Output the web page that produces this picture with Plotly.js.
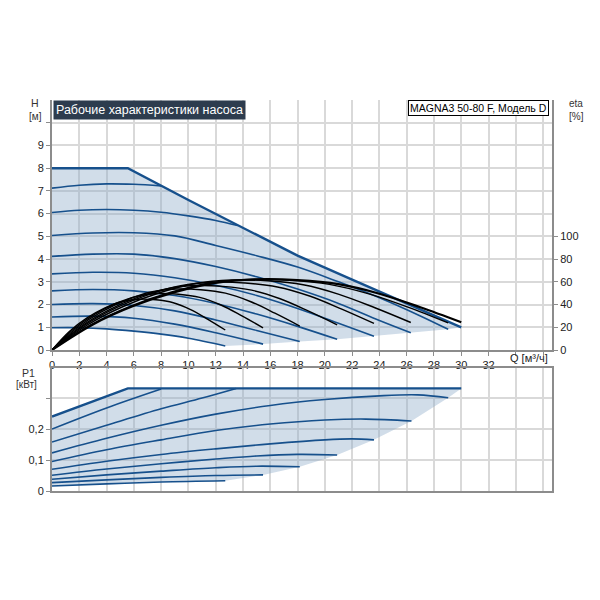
<!DOCTYPE html>
<html><head><meta charset="utf-8">
<script src="https://cdn.plot.ly/plotly-3.0.1.min.js"></script>
<style>html,body{margin:0;padding:0;background:#fff}#chart{width:600px;height:600px}</style>
</head><body><div id="chart"></div>
<script>
// ---------- H(Q) pump curves [m] vs Q [m3/h] ----------
const qHmax = [0, 5.56, 10, 14, 18, 22, 26, 30];
const hHmax = [8, 8, 6.6, 5.36, 4.15, 3.1, 2.05, 1.0];
const qH2 = [0, 2, 4, 6, 8];
const hH2 = [7.12, 7.25, 7.31, 7.29, 7.22];
const qH3 = [0, 2, 4, 6, 8, 10, 12, 13.6];
const hH3 = [6.05, 6.15, 6.18, 6.15, 6.06, 5.9, 5.7, 5.48];
const qH4 = [0, 3, 6, 9, 12, 15, 18, 21, 24, 27, 29.04];
const hH4 = [5.04, 5.15, 5.16, 5.02, 4.6, 4.15, 3.65, 3.0, 2.3, 1.5, 0.91];
const qH5 = [0, 3, 6, 9, 12, 15, 18, 21, 24, 26.3];
const hH5 = [4.12, 4.22, 4.22, 4.02, 3.67, 3.22, 2.68, 2.05, 1.3, 0.76];
const qH6 = [0, 3, 6, 9, 12, 15, 18, 21, 23.6];
const hH6 = [3.35, 3.42, 3.38, 3.18, 2.85, 2.4, 1.83, 1.18, 0.6];
const qH7 = [0, 3, 6, 9, 12, 15, 18, 20.9];
const hH7 = [2.6, 2.66, 2.6, 2.4, 2.05, 1.58, 1.04, 0.47];
const qH8 = [0, 3, 6, 9, 12, 15, 18.16];
const hH8 = [2.0, 2.04, 1.96, 1.72, 1.32, 0.86, 0.37];
const qH9 = [0, 3, 6, 9, 12, 15.47];
const hH9 = [1.45, 1.49, 1.4, 1.14, 0.76, 0.26];
const qH10 = [0, 2, 4, 6, 8, 10, 12.7];
const hH10 = [0.98, 0.98, 0.93, 0.83, 0.7, 0.52, 0.18];

// ---------- efficiency curves eta [%] ----------
const qE1 = [0, 3, 6, 9, 12, 15, 18, 21, 24, 27, 30];
const eE1 = [0, 22.5, 38.9, 50.9, 59.1, 62.2, 61.5, 57.9, 49.5, 37.6, 24.4];
const qE4 = [0, 2.9, 5.81, 8.71, 11.62, 14.52, 17.42, 20.33, 23.23, 26.14, 29.04];
const eE4 = [0, 22.5, 38.8, 50.8, 59, 62.1, 61.4, 57.8, 49.4, 37.5, 23.8];
const qE5 = [0, 2.63, 5.26, 7.89, 10.52, 13.15, 15.78, 18.41, 21.04, 23.67, 26.3];
const eE5 = [0, 22.3, 38.5, 50.4, 58.5, 61.6, 60.9, 57.4, 49, 37.2, 24.2];
const qE6 = [0, 2.36, 4.72, 7.08, 9.44, 11.8, 14.16, 16.52, 18.88, 21.24, 23.6];
const eE6 = [0, 21.6, 37.3, 48.8, 56.6, 59.6, 58.9, 55.5, 47.5, 36, 23.4];
const qE7 = [0, 2.09, 4.18, 6.27, 8.36, 10.45, 12.54, 14.63, 16.72, 18.81, 20.9];
const eE7 = [0, 20.5, 35.4, 46.3, 53.8, 56.7, 56, 52.7, 45.1, 34.2, 22.2];
const qE8 = [0, 1.82, 3.63, 5.45, 7.26, 9.08, 10.9, 12.71, 14.53, 16.34, 18.16];
const eE8 = [0, 19.4, 33.5, 43.9, 51, 53.7, 53, 50, 42.7, 32.4, 21.1];
const qE9 = [0, 1.55, 3.09, 4.64, 6.19, 7.74, 9.28, 10.83, 12.38, 13.92, 15.47];
const eE9 = [0, 18, 31.1, 40.7, 47.2, 49.7, 49.1, 46.3, 39.6, 30, 19.5];
const qE10 = [0, 1.27, 2.54, 3.81, 5.08, 6.35, 7.62, 8.89, 10.16, 11.43, 12.7];
const eE10 = [0, 16.2, 28, 36.6, 42.5, 44.7, 44.2, 41.6, 35.6, 27, 17.6];

// ---------- P1 curves [kW] ----------
const qPmax = [0, 5.56, 30];
const pPmax = [0.24, 0.331, 0.331];
const qP2 = [0, 4, 8];
const pP2 = [0.2, 0.268, 0.329];
const qP3 = [0, 4, 8, 11, 13.5];
const pP3 = [0.158, 0.212, 0.265, 0.3, 0.331];
const qP4 = [0, 4, 8, 12, 16, 20, 24, 26.8, 29.04];
const pP4 = [0.123, 0.17, 0.212, 0.248, 0.276, 0.295, 0.307, 0.31, 0.301];
const qP5 = [0, 4, 8, 12, 16, 20, 23, 26.35];
const pP5 = [0.095, 0.133, 0.165, 0.195, 0.216, 0.229, 0.232, 0.226];
const qP6 = [0, 4, 8, 12, 16, 20, 22, 23.6];
const pP6 = [0.07, 0.096, 0.118, 0.136, 0.152, 0.165, 0.168, 0.165];
const qP7 = [0, 4, 8, 12, 15, 18, 20.9];
const pP7 = [0.051, 0.071, 0.088, 0.103, 0.113, 0.118, 0.116];
const qP8 = [0, 4, 8, 12, 15, 18.16];
const pP8 = [0.038, 0.052, 0.064, 0.075, 0.08, 0.078];
const qP9 = [0, 4, 8, 12, 15.47];
const pP9 = [0.027, 0.036, 0.044, 0.05, 0.052];
const qP10 = [0, 4, 8, 12.7];
const pP10 = [0.016, 0.023, 0.029, 0.033];

// ---------- ticks ----------
const qTicks = [0,2,4,6,8,10,12,14,16,18,20,22,24,26,28,30,32,34,36];
const qTickText = ['0','2','4','6','8','10','12','14','16','18','20','22','24','26','28','30','32','',''];
const hTicks = [0,1,2,3,4,5,6,7,8,9,10];
const hTickText = ['0','1','2','3','4','5','6','7','8','9',''];
const etaTicks = [0,20,40,60,80,100];
const pTicks = [0,0.1,0.2,0.3];
const pTickText = ['0','0,1','0,2',''];

const BLUE = '#16508c';
const FILL = 'rgba(140,170,200,0.4)';
const FONT = 'Liberation Sans, Arial, sans-serif';

const hCurves = [[qH2,hH2],[qH3,hH3],[qH4,hH4],[qH5,hH5],[qH6,hH6],[qH7,hH7],[qH8,hH8],[qH9,hH9],[qH10,hH10]];
const eCurves = [[qE10,eE10],[qE9,eE9],[qE8,eE8],[qE7,eE7],[qE6,eE6],[qE5,eE5],[qE4,eE4],[qE1,eE1]];
const pCurves = [[qP2,pP2],[qP3,pP3],[qP4,pP4],[qP5,pP5],[qP6,pP6],[qP7,pP7],[qP8,pP8],[qP9,pP9],[qP10,pP10]];

function last(a){return a[a.length-1];}
// shaded region, top chart
const bndH = [[qH4,hH4],[qH5,hH5],[qH6,hH6],[qH7,hH7],[qH8,hH8],[qH9,hH9]];
const fillQ = qHmax.concat(bndH.map(c=>last(c[0])), qH10.slice().reverse());
const fillH = hHmax.concat(bndH.map(c=>last(c[1])), hH10.slice().reverse());
// shaded region, bottom chart
const bndP = [[qP4,pP4],[qP5,pP5],[qP6,pP6],[qP7,pP7],[qP8,pP8],[qP9,pP9]];
const fillQP = qPmax.concat(bndP.map(c=>last(c[0])), qP10.slice().reverse());
const fillP = pPmax.concat(bndP.map(c=>last(c[1])), pP10.slice().reverse());

const traces = [];
traces.push({x:fillQ, y:fillH, xaxis:'x', yaxis:'y', mode:'lines', fill:'toself', fillcolor:FILL, line:{width:0}, hoverinfo:'skip'});
traces.push({x:fillQP, y:fillP, xaxis:'x2', yaxis:'y2', mode:'lines', fill:'toself', fillcolor:FILL, line:{width:0}, hoverinfo:'skip'});
hCurves.forEach(c=>traces.push({x:c[0], y:c[1], xaxis:'x', yaxis:'y', mode:'lines', line:{color:BLUE, width:1.6, shape:'spline', smoothing:1}}));
traces.push({x:qHmax, y:hHmax, xaxis:'x', yaxis:'y', mode:'lines', line:{color:BLUE, width:2.4}});
pCurves.forEach(c=>traces.push({x:c[0], y:c[1], xaxis:'x2', yaxis:'y2', mode:'lines', line:{color:BLUE, width:1.6, shape:'spline', smoothing:1}}));
traces.push({x:qPmax, y:pPmax, xaxis:'x2', yaxis:'y2', mode:'lines', line:{color:BLUE, width:2.4}});
eCurves.forEach((c,i)=>traces.push({x:c[0], y:c[1], xaxis:'x', yaxis:'y3', mode:'lines', line:{color:'#000', width: i===eCurves.length-1 ? 2.2 : 1.4, shape:'spline', smoothing:1}}));

const axLine = '#8c8c8c';
const gridC = '#d9d9d9';
const tickF = {family:FONT, size:11, color:'#222'};

const layout = {
  width:600, height:600,
  margin:{l:52, r:48, t:100, b:109},
  paper_bgcolor:'#fff', plot_bgcolor:'#fff',
  showlegend:false,
  font:{family:FONT, size:11, color:'#222'},
  xaxis:{domain:[0,1], anchor:'y', range:[0,36.65], tickvals:qTicks, ticktext:qTickText,
    showgrid:true, gridcolor:gridC, gridwidth:2, zeroline:false,
    showline:true, linecolor:axLine, linewidth:2, ticks:'outside', ticklen:4, tickcolor:axLine, tickfont:tickF},
  yaxis:{domain:[0.3606,1], anchor:'x', range:[0,11], tickvals:hTicks, ticktext:hTickText,
    showgrid:true, gridcolor:gridC, gridwidth:2, zeroline:false,
    showline:true, linecolor:axLine, linewidth:2, ticks:'outside', ticklen:4, tickcolor:axLine, tickfont:tickF},
  yaxis3:{overlaying:'y', side:'right', anchor:'x', range:[0,220], tickvals:etaTicks,
    showgrid:false, zeroline:false, showline:true, linecolor:axLine, linewidth:2,
    ticks:'outside', ticklen:4, tickcolor:axLine, tickfont:tickF},
  xaxis2:{domain:[0,1], anchor:'y2', matches:'x', range:[0,36.65], tickvals:qTicks, showticklabels:false,
    showgrid:true, gridcolor:gridC, gridwidth:2, zeroline:false,
    showline:true, mirror:true, linecolor:axLine, linewidth:2, ticks:''},
  yaxis2:{domain:[0,0.3138], anchor:'x2', range:[0,0.3958], tickvals:pTicks, ticktext:pTickText,
    showgrid:true, gridcolor:gridC, gridwidth:2, zeroline:false,
    showline:true, mirror:true, linecolor:axLine, linewidth:2, ticks:'outside', ticklen:4, tickcolor:axLine, tickfont:tickF},
  annotations:[
    {xref:'paper', yref:'paper', x:0.002, y:1, xanchor:'left', yanchor:'top', showarrow:false,
     text:'Рабочие характеристики насоса', font:{family:FONT, size:12.5, color:'#fff'}, bgcolor:'#2d3c4e', borderpad:2},
    {xref:'paper', yref:'paper', x:0.993, y:1, xanchor:'right', yanchor:'top', showarrow:false,
     text:'MAGNA3 50-80 F, Модель D', font:{family:FONT, size:10.5, color:'#000'}, bgcolor:'#fff', bordercolor:'#000', borderwidth:1, borderpad:1},
    {xref:'paper', yref:'paper', x:-0.034, y:0.992, xanchor:'center', yanchor:'middle', showarrow:false, text:'H', font:{family:FONT, size:10.5, color:'#333'}},
    {xref:'paper', yref:'paper', x:-0.034, y:0.959, xanchor:'center', yanchor:'middle', showarrow:false, text:'[м]', font:{family:FONT, size:10, color:'#333'}},
    {xref:'paper', yref:'paper', x:1.048, y:0.990, xanchor:'center', yanchor:'middle', showarrow:false, text:'eta', font:{family:FONT, size:10, color:'#333'}},
    {xref:'paper', yref:'paper', x:1.048, y:0.959, xanchor:'center', yanchor:'middle', showarrow:false, text:'[%]', font:{family:FONT, size:10, color:'#333'}},
    {xref:'paper', yref:'paper', x:-0.048, y:0.302, xanchor:'center', yanchor:'middle', showarrow:false, text:'P1', font:{family:FONT, size:10.5, color:'#333'}},
    {xref:'paper', yref:'paper', x:-0.052, y:0.272, xanchor:'center', yanchor:'middle', showarrow:false, text:'[кВт]', font:{family:FONT, size:10, color:'#333'}},
    {xref:'paper', yref:'paper', x:0.954, y:0.340, xanchor:'center', yanchor:'middle', showarrow:false, text:'Q [м³/ч]', font:{family:FONT, size:11, color:'#222'}}
  ]
};

Plotly.newPlot('chart', traces, layout, {staticPlot:true, displayModeBar:false});
</script>
</body></html>
